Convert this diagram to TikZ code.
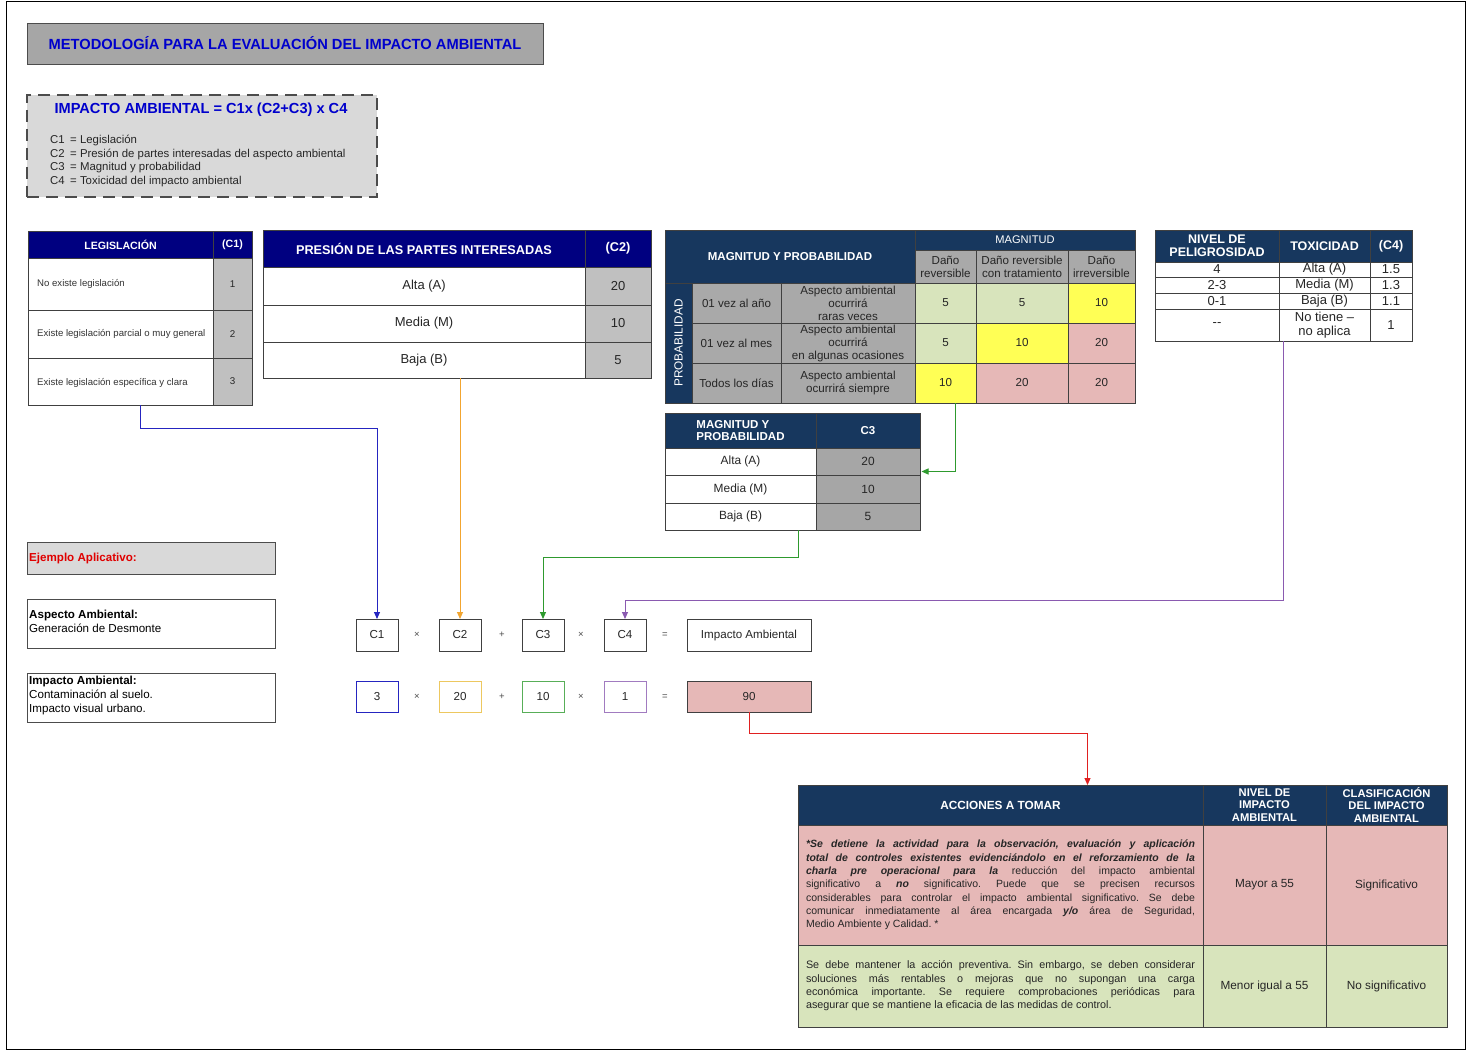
\documentclass[tikz,border=0pt]{standalone}
\usepackage{fontspec}
\setmainfont{Liberation Sans}
\usetikzlibrary{arrows.meta}
\frenchspacing

\definecolor{navyh}{HTML}{000080}
\definecolor{slateh}{HTML}{17375E}
\definecolor{cellgray}{HTML}{C0C0C0}
\definecolor{subgray}{HTML}{A9A9A9}
\definecolor{midgray}{HTML}{A6A6A6}
\definecolor{lightgray}{HTML}{D9D9D9}
\definecolor{pinkc}{HTML}{E6B8B7}
\definecolor{greenc}{HTML}{D8E4BC}
\definecolor{yellowc}{HTML}{FFFF55}
\definecolor{titleblue}{HTML}{0000CC}
\definecolor{redtxt}{HTML}{E00000}
\definecolor{lnblue}{HTML}{2525C0}
\definecolor{lnorange}{HTML}{F2A530}
\definecolor{lngreen}{HTML}{2E9A2E}
\definecolor{lnpurple}{HTML}{8A5AB0}
\definecolor{lnred}{HTML}{E02020}
\definecolor{bxorange}{HTML}{EDC860}

\newcommand\fs[2]{\fontsize{#1}{#2}\selectfont}
\newcommand\bi[1]{\textbf{\textit{#1}}}
% table cell: name, x1, y1, x2, y2, text
\newcommand\tc[7][]{\node[tcell,minimum width={(#5-#3)*1pt},minimum height={(#6-#4)*1pt},#1] (#2) at (#3,#4) {#7};}

\tikzset{
  tcell/.style={draw=black!75, line width=0.7pt, anchor=north west, inner sep=0pt,
    outer sep=0pt, align=center, text=black!85, font=\fs{11.6}{13}},
  hdr/.style={text=white, font=\bfseries\fs{11.5}{12.5}},
  lbl/.style={anchor=west, inner sep=0pt, text=black!80, font=\fs{9.6}{11}},
  conn/.style={line width=1pt, -{Triangle[length=7pt,width=6pt]}},
  opsym/.style={inner sep=0pt, text=black!70, font=\fs{9.5}{11}},
  frm/.style={line width=0.9pt, font=\fs{11.6}{13}},
}

\begin{document}
\begin{tikzpicture}[x=1pt,y=-1pt]
\useasboundingbox (0,0) rectangle (1467,1051);
\fill[white] (0,0) rectangle (1467,1051);
\draw[line width=1pt] (6,2) rectangle (1465,1049);

% ---------- title and formula ----------
\tc[fill=midgray, draw=black!70, font=\bfseries\fs{14.7}{16}, text=titleblue]{title}{27}{23}{543}{64}{METODOLOGÍA PARA LA EVALUACIÓN DEL IMPACTO AMBIENTAL}
\tc[fill=lightgray, draw=black!70, line width=1.1pt, dash pattern=on 12pt off 7pt]{fbox}{27}{95}{377}{197}{}
\node[font=\bfseries\fs{14.6}{16}, text=titleblue, inner sep=0pt] (ftitle) at (201,110) {IMPACTO AMBIENTAL = C1x (C2+C3) x C4};
\node[anchor=base west, inner sep=0pt, text=black!85, font=\fs{11.4}{12}] (d1) at (50,144) {\makebox[20pt][l]{C1}= Legislación};
\node[anchor=base west, inner sep=0pt, text=black!85, font=\fs{11.4}{12}] (d2) at (50,157.5) {\makebox[20pt][l]{C2}= Presión de partes interesadas del aspecto ambiental};
\node[anchor=base west, inner sep=0pt, text=black!85, font=\fs{11.4}{12}] (d3) at (50,171) {\makebox[20pt][l]{C3}= Magnitud y probabilidad};
\node[anchor=base west, inner sep=0pt, text=black!85, font=\fs{11.4}{12}] (d4) at (50,185) {\makebox[20pt][l]{C4}= Toxicidad del impacto ambiental};

% ---------- C1: legislacion ----------
\tc[draw=none]{leg}{28}{231}{252}{405}{}
\tc[fill=navyh,hdr,font=\bfseries\fs{10.6}{12}]{legH1}{28}{231}{213}{258}{LEGISLACIÓN}
\tc[fill=navyh,hdr,font=\bfseries\fs{10.6}{12}]{legH2}{213}{231}{252}{258}{(C1)}
\tc{legR1}{28}{258}{213}{310}{}
\tc{legR2}{28}{310}{213}{358}{}
\tc{legR3}{28}{358}{213}{405}{}
\tc[fill=cellgray,font=\fs{9.8}{11}]{legV1}{213}{258}{252}{310}{1}
\tc[fill=cellgray,font=\fs{9.8}{11}]{legV2}{213}{310}{252}{358}{2}
\tc[fill=cellgray,font=\fs{9.8}{11}]{legV3}{213}{358}{252}{405}{3}
\node[lbl] (legT1) at (37,284) {No existe legislación};
\node[lbl] (legT2) at (37,334) {Existe legislación parcial o muy general};
\node[lbl] (legT3) at (37,383) {Existe legislación específica y clara};

% ---------- C2: presion de las partes interesadas ----------
\tc[draw=none]{pres}{263}{230}{651}{378}{}
\tc[fill=navyh,hdr,font=\bfseries\fs{12.7}{14}]{presH1}{263}{230}{585}{267}{PRESIÓN DE LAS PARTES INTERESADAS}
\tc[fill=navyh,hdr,font=\bfseries\fs{12.7}{14}]{presH2}{585}{230}{651}{267}{(C2)}
\tc[font=\fs{13}{14}]{presR1}{263}{267}{585}{305}{Alta (A)}
\tc[font=\fs{13}{14}]{presR2}{263}{305}{585}{342}{Media (M)}
\tc[font=\fs{13}{14}]{presR3}{263}{342}{585}{378}{Baja (B)}
\tc[fill=cellgray,font=\fs{13}{14}]{presV1}{585}{267}{651}{305}{20}
\tc[fill=cellgray,font=\fs{13}{14}]{presV2}{585}{305}{651}{342}{10}
\tc[fill=cellgray,font=\fs{13}{14}]{presV3}{585}{342}{651}{378}{5}

% ---------- magnitud y probabilidad matrix ----------
\tc[draw=none]{mag}{665}{230}{1135}{403}{}
\tc[fill=slateh,hdr]{magH1}{665}{230}{915}{283}{MAGNITUD Y PROBABILIDAD}
\tc[fill=slateh,hdr,font=\fs{11.1}{12}]{magH2}{915}{230}{1135}{250}{MAGNITUD}
\tc[fill=subgray]{magS1}{915}{250}{976}{283}{Daño\\reversible}
\tc[fill=subgray]{magS2}{976}{250}{1068}{283}{Daño reversible\\con tratamiento}
\tc[fill=subgray]{magS3}{1068}{250}{1135}{283}{Daño\\irreversible}
\tc[fill=slateh]{magP}{665}{283}{692}{403}{}
\node[rotate=90, text=white, inner sep=0pt, font=\fs{11.8}{12}] (magPT) at (magP.center) {PROBABILIDAD};
\tc[fill=subgray]{magF1}{692}{283}{781}{323}{01 vez al año}
\tc[fill=subgray]{magF2}{692}{323}{781}{363}{01 vez al mes}
\tc[fill=subgray]{magF3}{692}{363}{781}{403}{Todos los días}
\tc[fill=subgray]{magD1}{781}{283}{915}{323}{Aspecto ambiental\\ocurrirá\\raras veces}
\tc[fill=subgray]{magD2}{781}{323}{915}{363}{Aspecto ambiental\\ocurrirá\\en algunas ocasiones}
\tc[fill=subgray]{magD3}{781}{363}{915}{403}{Aspecto ambiental\\ocurrirá siempre}
\tc[fill=greenc]{m11}{915}{283}{976}{323}{5}
\tc[fill=greenc]{m12}{976}{283}{1068}{323}{5}
\tc[fill=yellowc]{m13}{1068}{283}{1135}{323}{10}
\tc[fill=greenc]{m21}{915}{323}{976}{363}{5}
\tc[fill=yellowc]{m22}{976}{323}{1068}{363}{10}
\tc[fill=pinkc]{m23}{1068}{323}{1135}{363}{20}
\tc[fill=yellowc]{m31}{915}{363}{976}{403}{10}
\tc[fill=pinkc]{m32}{976}{363}{1068}{403}{20}
\tc[fill=pinkc]{m33}{1068}{363}{1135}{403}{20}

% ---------- C3 table ----------
\tc[draw=none]{c3tab}{665}{413}{920}{530}{}
\tc[fill=slateh,hdr,align=left]{c3H1}{665}{413}{816}{448}{MAGNITUD Y\\PROBABILIDAD}
\tc[fill=slateh,hdr]{c3H2}{816}{413}{920}{448}{C3}
\tc[font=\fs{11.9}{13}]{c3R1}{665}{448}{816}{475}{Alta (A)}
\tc[font=\fs{11.9}{13}]{c3R2}{665}{475}{816}{503}{Media (M)}
\tc[font=\fs{11.9}{13}]{c3R3}{665}{503}{816}{530}{Baja (B)}
\tc[fill=midgray,font=\fs{11.9}{13}]{c3V1}{816}{448}{920}{475}{20}
\tc[fill=midgray,font=\fs{11.9}{13}]{c3V2}{816}{475}{920}{503}{10}
\tc[fill=midgray,font=\fs{11.9}{13}]{c3V3}{816}{503}{920}{530}{5}

% ---------- C4: toxicidad ----------
\tc[draw=none]{tox}{1155}{230}{1412}{341}{}
\tc[fill=slateh,hdr,font=\bfseries\fs{12.5}{12.5}]{toxH1}{1155}{230}{1279}{262}{NIVEL DE\\PELIGROSIDAD}
\tc[fill=slateh,hdr,font=\bfseries\fs{12.5}{12.5}]{toxH2}{1279}{230}{1370}{262}{TOXICIDAD}
\tc[fill=slateh,hdr,font=\bfseries\fs{12.5}{12.5}]{toxH3}{1370}{230}{1412}{262}{(C4)}
\tc[font=\fs{13}{13}]{tx11}{1155}{262}{1279}{277}{4}
\tc[font=\fs{13}{13}]{tx12}{1279}{262}{1370}{277}{Alta (A)}
\tc[font=\fs{13}{13}]{tx13}{1370}{262}{1412}{277}{1.5}
\tc[font=\fs{13}{13}]{tx21}{1155}{277}{1279}{293}{2-3}
\tc[font=\fs{13}{13}]{tx22}{1279}{277}{1370}{293}{Media (M)}
\tc[font=\fs{13}{13}]{tx23}{1370}{277}{1412}{293}{1.3}
\tc[font=\fs{13}{13}]{tx31}{1155}{293}{1279}{309}{0-1}
\tc[font=\fs{13}{13}]{tx32}{1279}{293}{1370}{309}{Baja (B)}
\tc[font=\fs{13}{13}]{tx33}{1370}{293}{1412}{309}{1.1}
\tc[font=\fs{13}{13}]{tx41}{1155}{309}{1279}{341}{-{}-}
\tc[font=\fs{13}{14}]{tx42}{1279}{309}{1370}{341}{No tiene –\\no aplica}
\tc[font=\fs{13}{13}]{tx43}{1370}{309}{1412}{341}{1}

% ---------- worked example ----------
\tc[fill=lightgray,draw=black!70,line width=0.9pt]{ej}{27}{542}{275}{574}{}
\node[anchor=west, inner sep=0pt, text=redtxt, font=\bfseries\fs{11.6}{12}] (ejT) at (29,558) {Ejemplo Aplicativo:};
\tc[draw=black!70,line width=0.9pt]{asp}{27}{599}{275}{648}{}
\node[anchor=north west, inner sep=0pt, align=left, text=black, font=\fs{11.6}{13.8}] (aspT) at (29,610) {\textbf{Aspecto Ambiental:}\\Generación de Desmonte};
\tc[draw=black!70,line width=0.9pt]{imb}{27}{673}{275}{722}{}
\node[anchor=north west, inner sep=0pt, align=left, text=black, font=\fs{11.6}{13.8}] (imbT) at (29,676) {\textbf{Impacto Ambiental:}\\Contaminación al suelo.\\Impacto visual urbano.};

% ---------- formula boxes ----------
\tc[frm]{c1}{356}{619}{398}{651}{C1}
\tc[frm]{c2}{439}{619}{481}{651}{C2}
\tc[frm]{c3}{522}{619}{564}{651}{C3}
\tc[frm]{c4}{604}{619}{646}{651}{C4}
\tc[frm]{imp}{687}{619}{811}{651}{Impacto Ambiental}
\node[opsym] (o1) at (417,635) {×};
\node[opsym] (o2) at (502,635) {+};
\node[opsym] (o3) at (581,635) {×};
\node[opsym] (o4) at (665,635) {=};

\tc[frm,draw=lnblue]{v1}{356}{681}{398}{712}{3}
\tc[frm,draw=bxorange]{v2}{439}{681}{481}{712}{20}
\tc[frm,draw=lngreen!80]{v3}{522}{681}{564}{712}{10}
\tc[frm,draw=lnpurple!80]{v4}{604}{681}{646}{712}{1}
\tc[frm,fill=pinkc,draw=black!75]{r90}{687}{681}{811}{712}{90}
\node[opsym] (p1) at (417,697) {×};
\node[opsym] (p2) at (502,697) {+};
\node[opsym] (p3) at (581,697) {×};
\node[opsym] (p4) at (665,697) {=};

% ---------- actions table ----------
\tc[draw=none]{acc}{798}{785}{1447}{1027}{}
\tc[fill=slateh,hdr,font=\bfseries\fs{11.8}{13}]{accH1}{798}{785}{1203}{825}{ACCIONES A TOMAR}
\tc[fill=slateh,hdr,font=\bfseries\fs{11.2}{12.8}]{accH2}{1203}{785}{1326}{825}{NIVEL DE\\IMPACTO\\AMBIENTAL}
\tc[fill=slateh,hdr,font=\bfseries\fs{11.2}{12.8}]{accH3}{1326}{785}{1447}{825}{CLASIFICACIÓN\\DEL IMPACTO\\AMBIENTAL}
\tc[fill=pinkc,text width=389pt,align=justify,font=\fs{10.5}{13.3}]{accA1}{798}{825}{1203}{945}{%
\bi{*Se detiene la actividad para la observación, evaluación y aplicación}\linebreak
\bi{total de controles existentes evidenciándolo en el reforzamiento de la}\linebreak
\bi{charla pre operacional para la} reducción del impacto ambiental\linebreak
significativo a \bi{no} significativo. Puede que se precisen recursos\linebreak
considerables para controlar el impacto ambiental significativo. Se debe\linebreak
comunicar inmediatamente al área encargada \bi{y/o} área de Seguridad,\linebreak
Medio Ambiente y Calidad. *}
\tc[fill=pinkc,font=\fs{11.8}{13}]{accB1}{1203}{825}{1326}{945}{Mayor a 55}
\tc[fill=pinkc,font=\fs{11.8}{13}]{accC1}{1326}{825}{1447}{945}{Significativo}
\tc[fill=greenc,text width=389pt,align=justify,font=\fs{10.8}{13.3}]{accA2}{798}{945}{1203}{1027}{%
Se debe mantener la acción preventiva. Sin embargo, se deben considerar\linebreak
soluciones más rentables o mejoras que no supongan una carga\linebreak
económica importante. Se requiere comprobaciones periódicas para\linebreak
asegurar que se mantiene la eficacia de las medidas de control.}
\tc[fill=greenc,font=\fs{11.8}{13}]{accB2}{1203}{945}{1326}{1027}{Menor igual a 55}
\tc[fill=greenc,font=\fs{11.8}{13}]{accC2}{1326}{945}{1447}{1027}{No significativo}

% ---------- connectors ----------
\draw[conn,lnblue] (leg.south) -- ++(0,23) -| (c1.north);
\draw[conn,lnorange] (pres.south -| c2.north) -- (c2.north);
\coordinate (gstart) at (955,403);
\draw[conn,lngreen,shorten >=1.5pt] (gstart) |- (c3tab.east);
\draw[conn,lngreen] ([xshift=6pt]c3tab.south) -- ++(0,27) -| (c3.north);
\draw[conn,lnpurple] (tox.south) -- ++(0,259) -| (c4.north);
\draw[conn,lnred] (r90.south) -- ++(0,21) -| ([xshift=-35pt]acc.north);

\end{tikzpicture}
\end{document}
